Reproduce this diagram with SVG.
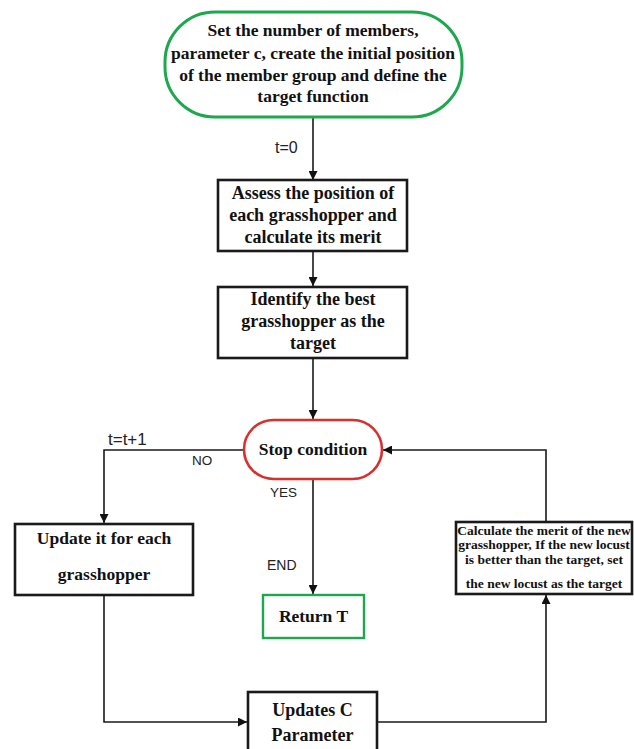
<svg xmlns="http://www.w3.org/2000/svg" width="634" height="749" viewBox="0 0 634 749">
<style>
.box{fill:#fff;stroke:#1a1a1a;stroke-width:2.6}
.green{fill:#fff;stroke:#1ea84e;stroke-width:3}
.red{fill:#fff;stroke:#d8302c;stroke-width:2.6}
.t{font-family:"Liberation Serif","Times New Roman",serif;font-weight:bold;fill:#111;text-anchor:middle}
.lbl{font-family:"Liberation Sans",Arial,sans-serif;fill:#222}
.c{fill:none;stroke:#1a1a1a;stroke-width:1.6}
</style>
<defs>
<marker id="ah" viewBox="0 0 10 10" refX="10" refY="5" markerWidth="9" markerHeight="9" markerUnits="userSpaceOnUse" orient="auto">
<path d="M0,0 L10,5 L0,10 z" fill="#111"/>
</marker>
</defs>
<rect width="634" height="749" fill="#fff"/>
<g id="connectors">
<path class="c" d="M313,117 V180" marker-end="url(#ah)"/>
<path class="c" d="M313,251 V286" marker-end="url(#ah)"/>
<path class="c" d="M313,358 V419" marker-end="url(#ah)"/>
<path class="c" d="M244,450 H104 V523" marker-end="url(#ah)"/>
<path class="c" d="M313,479 V594" marker-end="url(#ah)"/>
<path class="c" d="M104,595 V722 H247" marker-end="url(#ah)"/>
<path class="c" d="M377,722 H546 V595" marker-end="url(#ah)"/>
<path class="c" d="M546,522 V450 H383" marker-end="url(#ah)"/>
<text class="lbl" x="275" y="153" font-size="16">t=0</text>
<text class="lbl" x="108" y="445" font-size="17">t=t+1</text>
<text class="lbl" x="192" y="465" font-size="13.5">NO</text>
<text class="lbl" x="270" y="497" font-size="13.5">YES</text>
<text class="lbl" x="267" y="570" font-size="14">END</text>
</g>
<g id="start">
<rect class="green" x="165" y="12" width="297" height="105" rx="50" ry="50"/>
<text class="t" x="313" y="36" font-size="17.5">Set the number of members,</text>
<text class="t" x="313" y="59" font-size="17.5">parameter c, create the initial position</text>
<text class="t" x="313" y="81" font-size="17.5">of the member group and define the</text>
<text class="t" x="313" y="102" font-size="17.5">target function</text>
</g>
<g id="assess">
<rect class="box" x="218" y="180" width="189" height="71"/>
<text class="t" x="313" y="199" font-size="18">Assess the position of</text>
<text class="t" x="313" y="221" font-size="18">each grasshopper and</text>
<text class="t" x="313" y="243" font-size="18">calculate its merit</text>
</g>
<g id="identify">
<rect class="box" x="218" y="287" width="189" height="71"/>
<text class="t" x="313" y="305" font-size="18">Identify the best</text>
<text class="t" x="313" y="327" font-size="18">grasshopper as the</text>
<text class="t" x="313" y="349" font-size="18">target</text>
</g>
<g id="stop">
<rect class="red" x="244" y="420" width="138" height="59" rx="29.5" ry="29.5"/>
<text class="t" x="313" y="455" font-size="17.5">Stop condition</text>
</g>
<g id="update">
<rect class="box" x="15" y="524" width="178" height="71"/>
<text class="t" x="104" y="544" font-size="17.5">Update it for each</text>
<text class="t" x="104" y="580" font-size="17.5">grasshopper</text>
</g>
<g id="return">
<rect class="green" x="263" y="595" width="101" height="43" style="stroke-width:2.4"/>
<text class="t" x="313.5" y="622" font-size="17.5">Return T</text>
</g>
<g id="calculate">
<rect class="box" x="456" y="522" width="176" height="72"/>
<text class="t" x="544" y="535" font-size="13.5">Calculate the merit of the new</text>
<text class="t" x="544" y="549" font-size="13.5">grasshopper, If the new locust</text>
<text class="t" x="544" y="564" font-size="13.5">is better than the target, set</text>
<text class="t" x="544" y="588" font-size="13.5">the new locust as the target</text>
</g>
<g id="updatec">
<rect class="box" x="248" y="692" width="129" height="60"/>
<text class="t" x="312.5" y="716" font-size="18">Updates C</text>
<text class="t" x="312.5" y="741" font-size="18">Parameter</text>
</g>
</svg>
